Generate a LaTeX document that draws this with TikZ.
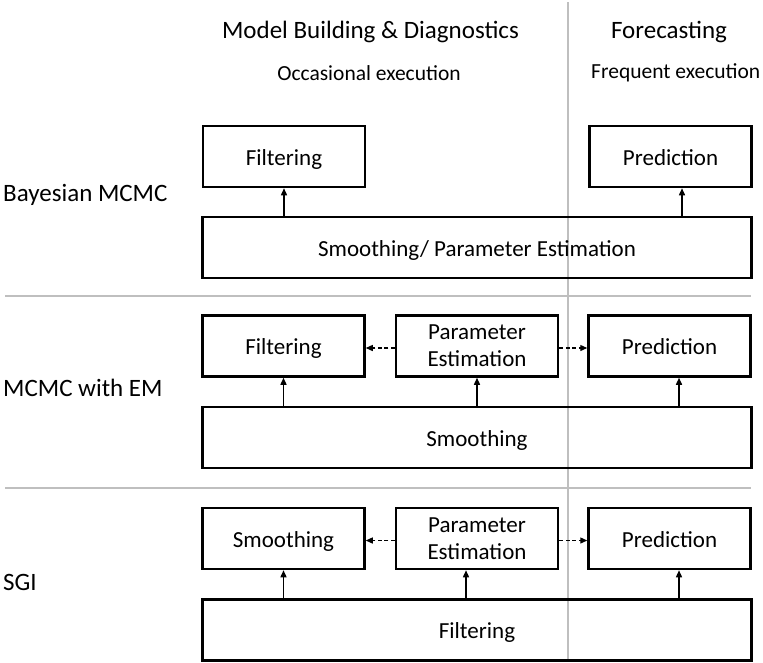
\documentclass[tikz,border=0pt]{standalone}
\usepackage{fontspec}
\setmainfont{Carlito}
\usetikzlibrary{arrows.meta}
\begin{document}
\begin{tikzpicture}[x=1pt,y=-1pt,
  box/.style={draw, line width=2.5pt, inner sep=0pt, minimum height=61pt, align=center, font=\fontsize{23}{27}\selectfont},
  one/.style={text height=22pt, text depth=4.4pt},
  smallbox/.style={box, minimum width=162pt},
  widebox/.style={box, one, minimum width=549pt},
  arr/.style={line width=1.4pt, -{Triangle[length=7pt,width=6pt]}},
  darr/.style={line width=1.3pt, dash pattern=on 4pt off 2.5pt, -{Triangle[length=7pt,width=6pt]}},
  sep/.style={draw=black!25, line width=1.6pt},
  head/.style={font=\fontsize{25}{30}\selectfont, inner sep=0pt},
  sub/.style={font=\fontsize{21.5}{24}\selectfont, inner sep=0pt},
  rowlab/.style={font=\fontsize{25}{29}\selectfont, inner sep=0pt, anchor=west}
]
\useasboundingbox (0,0) rectangle (763,662);
% separators
\draw[sep] (568,2) -- (568,662);
\draw[sep] (5,296) -- (751,296);
\draw[sep] (5,488) -- (751,488);
% headers
\node[head] (h1) at (370.5,32) {Model Building \& Diagnostics};
\node[head] (h2) at (669,32) {Forecasting};
\node[sub] (s1h) at (369,73) {Occasional execution};
\node[sub, anchor=west] (s2h) at (591,73) {Frequent execution};
% row labels
\node[rowlab] (r1) at (3,195) {Bayesian MCMC};
\node[rowlab] (r2) at (3,388) {MCMC with EM};
\node[rowlab] (r3) at (3,582) {SGI};
% row 1
\node[smallbox, one] (f1) at (284,156.5) {Filtering};
\node[smallbox, one] (p1) at (670.5,156.5) {Prediction};
\node[widebox] (b1) at (477,247.5) {Smoothing/ Parameter Estimation};
\coordinate (a1) at ([xshift=11.5pt]p1.south);
\draw[arr] (b1.north -| f1.south) -- (f1.south);
\draw[arr] (b1.north -| a1) -- (a1);
% row 2
\node[smallbox, one] (f2) at (283.5,346) {Filtering};
\node[smallbox] (e2) at (477,346) {Parameter\\Estimation};
\node[smallbox, one] (p2) at (669.5,346) {Prediction};
\node[widebox] (b2) at (477,437.5) {Smoothing};
\coordinate (a2) at ([xshift=9.5pt]p2.south);
\draw[arr] (b2.north -| f2.south) -- (f2.south);
\draw[arr] (b2.north -| e2.south) -- (e2.south);
\draw[arr] (b2.north -| a2) -- (a2);
\draw[darr] ([yshift=-2pt]e2.west) -- ([yshift=-2pt]e2.west -| f2.east);
\draw[darr] ([yshift=-2pt]e2.east) -- ([yshift=-2pt]e2.east -| p2.west);
% row 3
\node[smallbox, one] (f3) at (283.5,538.5) {Smoothing};
\node[smallbox] (e3) at (477,538.5) {Parameter\\Estimation};
\node[smallbox, one] (p3) at (669.5,538.5) {Prediction};
\node[widebox] (b3) at (477,630) {Filtering};
\coordinate (c3) at ([xshift=-11pt]e3.south);
\coordinate (a3) at ([xshift=9.5pt]p3.south);
\draw[arr] (b3.north -| f3.south) -- (f3.south);
\draw[arr] (b3.north -| c3) -- (c3);
\draw[arr] (b3.north -| a3) -- (a3);
\draw[darr] ([yshift=-2pt]e3.west) -- ([yshift=-2pt]e3.west -| f3.east);
\draw[darr] ([yshift=-2pt]e3.east) -- ([yshift=-2pt]e3.east -| p3.west);
\end{tikzpicture}
\end{document}
